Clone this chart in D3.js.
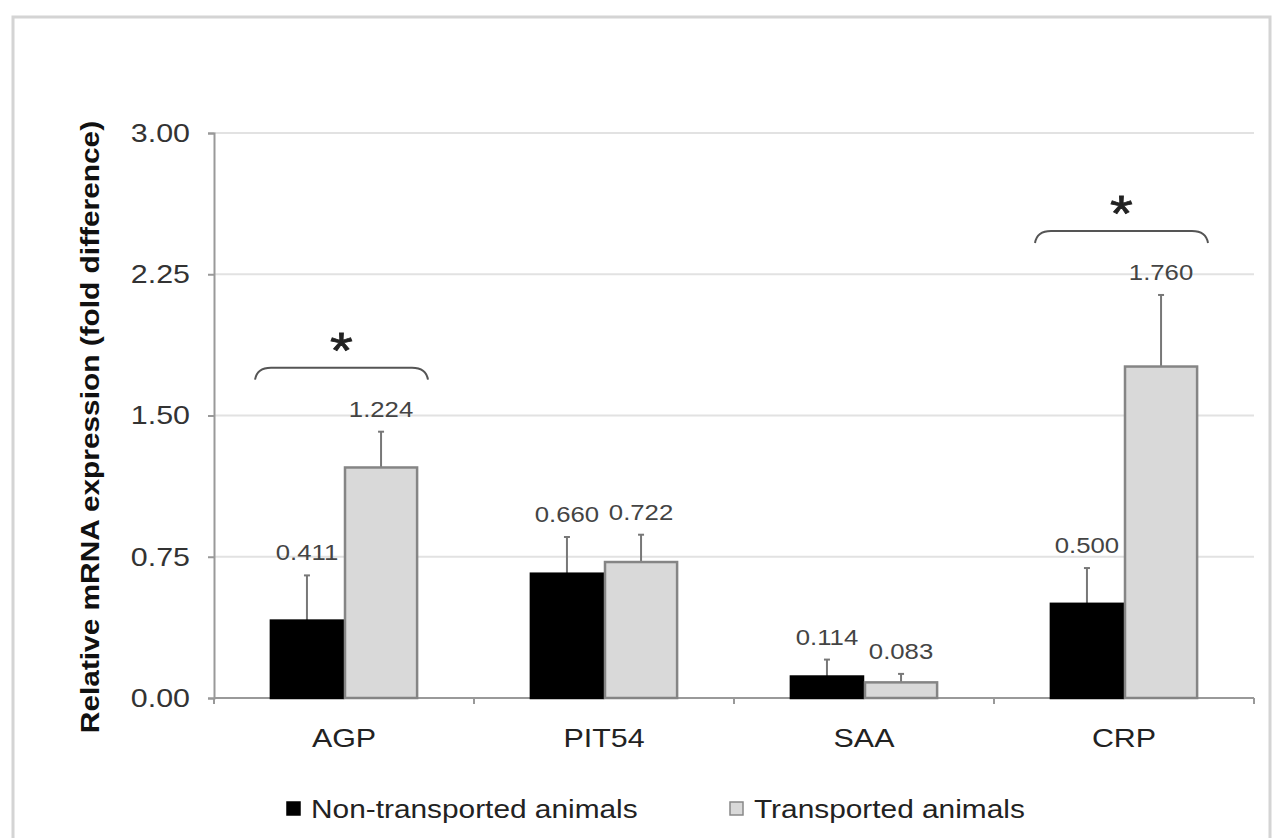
<!DOCTYPE html>
<html>
<head>
<meta charset="utf-8">
<script src="https://cdn.jsdelivr.net/npm/d3@7"></script>
<style>
  body { margin: 0; background: #fff; }
  text { font-family: "Liberation Sans", Arial, sans-serif; }
</style>
</head>
<body>
<svg id="chart"></svg>
<script>
// values
const genes = ['AGP', 'PIT54', 'SAA', 'CRP'];
const groups = ['Non-transported animals', 'Transported animals'];
const nonTransported = [0.411, 0.660, 0.114, 0.500];
const transported = [1.224, 0.722, 0.083, 1.760];
const errNon = [0.24, 0.195, 0.09, 0.19];
const errTrans = [0.19, 0.145, 0.045, 0.38];
const yTicks = [0, 0.75, 1.5, 2.25, 3];
const signif = ['AGP', 'CRP'];

const width = 1275;
const height = 838;
const margin = {top: 133, right: 21, bottom: 140, left: 214};
const sx = 1.17; // the figure's text is drawn a bit wider than Arial

const svg = d3.select('#chart')
  .attr('width', width)
  .attr('height', height);

// outer frame
svg.append('path')
  .attr('d', `M13,${height}V17H1270V${height}`)
  .attr('fill', 'none')
  .attr('stroke', '#d4d4d4')
  .attr('stroke-width', 3);

const x = d3.scaleBand()
  .domain(genes)
  .range([margin.left, width - margin.right])
  .paddingInner(0.43)
  .paddingOuter(0.215);

const xOuter = d3.scaleBand().domain(genes).range([margin.left, width - margin.right]);

const xSub = d3.scaleBand().domain(groups).range([0, x.bandwidth()]);

const y = d3.scaleLinear().domain([0, 3]).range([height - margin.bottom, margin.top]);

// gridlines
svg.append('g')
  .selectAll('line')
  .data(yTicks.slice(1))
  .join('line')
  .attr('x1', margin.left).attr('x2', width - margin.right)
  .attr('y1', d => y(d)).attr('y2', d => y(d))
  .attr('stroke', '#e2e2e2')
  .attr('stroke-width', 2);

// y axis
const yAxis = svg.append('g')
  .attr('transform', `translate(${margin.left},0)`)
  .call(d3.axisLeft(y).tickValues(yTicks).tickFormat(d3.format('.2f')).tickSize(6).tickPadding(14.5));
yAxis.select('.domain').attr('stroke', '#999').attr('stroke-width', 2);
yAxis.selectAll('.tick line').attr('stroke', '#999').attr('stroke-width', 2);
yAxis.selectAll('.tick text')
  .attr('font-size', 26)
  .attr('fill', '#333')
  .attr('transform', `scale(${sx},1)`);

// x axis with ticks at category borders
const xAxisG = svg.append('g').attr('transform', `translate(0,${y(0)})`);
xAxisG.append('line')
  .attr('x1', margin.left).attr('x2', width - margin.right)
  .attr('stroke', '#999').attr('stroke-width', 2);
xAxisG.selectAll('.bt')
  .data(genes.concat(['end']))
  .join('line')
  .attr('class', 'bt')
  .attr('x1', (d, i) => margin.left + i * xOuter.bandwidth())
  .attr('x2', (d, i) => margin.left + i * xOuter.bandwidth())
  .attr('y1', 0).attr('y2', 6)
  .attr('stroke', '#999').attr('stroke-width', 2);
xAxisG.selectAll('text')
  .data(genes)
  .join('text')
  .attr('transform', d => `translate(${xOuter(d) + xOuter.bandwidth() / 2},49) scale(${sx},1)`)
  .attr('text-anchor', 'middle')
  .attr('font-size', 26)
  .attr('fill', '#222')
  .text(d => d);

// y title
svg.append('text')
  .attr('transform', `translate(99,427) rotate(-90) scale(${sx},1)`)
  .attr('text-anchor', 'middle')
  .attr('font-size', 25.5)
  .attr('font-weight', 'bold')
  .attr('fill', '#111')
  .text('Relative mRNA expression (fold difference)');

const rows = genes.map((g, i) => [
  {gene: g, group: groups[0], v: nonTransported[i], e: errNon[i]},
  {gene: g, group: groups[1], v: transported[i], e: errTrans[i]}
]).flat();

const fill = d3.scaleOrdinal().domain(groups).range(['#000', '#d9d9d9']);
const stroke = d3.scaleOrdinal().domain(groups).range(['#000', '#858585']);

const bx = d => x(d.gene) + xSub(d.group);

// error bars (drawn first so bar covers the lower half)
const err = svg.append('g');
err.selectAll('.ev')
  .data(rows)
  .join('line')
  .attr('x1', d => bx(d) + xSub.bandwidth() / 2)
  .attr('x2', d => bx(d) + xSub.bandwidth() / 2)
  .attr('y1', d => y(d.v))
  .attr('y2', d => y(d.v + d.e))
  .attr('stroke', '#777').attr('stroke-width', 2);
err.selectAll('.ec')
  .data(rows)
  .join('line')
  .attr('x1', d => bx(d) + xSub.bandwidth() / 2 - 3)
  .attr('x2', d => bx(d) + xSub.bandwidth() / 2 + 3)
  .attr('y1', d => y(d.v + d.e))
  .attr('y2', d => y(d.v + d.e))
  .attr('stroke', '#777').attr('stroke-width', 2);

// bars
svg.append('g')
  .selectAll('rect')
  .data(rows)
  .join('rect')
  .attr('x', d => bx(d) + 1)
  .attr('y', d => y(d.v))
  .attr('width', xSub.bandwidth() - 2)
  .attr('height', d => y(0) - y(d.v))
  .attr('fill', d => fill(d.group))
  .attr('stroke', d => stroke(d.group))
  .attr('stroke-width', 2.5);

// value labels
svg.append('g')
  .selectAll('text')
  .data(rows)
  .join('text')
  .attr('transform', d => `translate(${bx(d) + xSub.bandwidth() / 2},${y(d.v + d.e) - 15}) scale(${sx},1)`)
  .attr('text-anchor', 'middle')
  .attr('font-size', 22)
  .attr('fill', '#444')
  .text(d => d3.format('.3f')(d.v));

// significance braces
const br = svg.append('g');
signif.forEach(g => {
  const i = genes.indexOf(g);
  const top = y(Math.max(transported[i] + errTrans[i], nonTransported[i] + errNon[i])) - 64;
  const x0 = xOuter(g) + 41, x1 = xOuter(g) + xOuter.bandwidth() - 46;
  br.append('path')
    .attr('d', `M${x0},${top + 12} Q${x0 + 2},${top} ${x0 + 16},${top} H${x1 - 16} Q${x1 - 2},${top} ${x1},${top + 12}`)
    .attr('fill', 'none')
    .attr('stroke', '#555')
    .attr('stroke-width', 2);
  br.append('text')
    .attr('transform', `translate(${(x0 + x1) / 2},${top}) scale(${sx},1)`)
    .attr('text-anchor', 'middle')
    .attr('font-size', 50)
    .attr('fill', '#222')
    .attr('stroke', '#222')
    .attr('stroke-width', 0.8)
    .text('*');
});

// legend
const leg = svg.append('g').attr('transform', 'translate(287,818)');
const legX = [0, 443];
groups.forEach((g, i) => {
  leg.append('rect')
    .attr('x', legX[i]).attr('y', -16)
    .attr('width', 13).attr('height', 13)
    .attr('fill', fill(g))
    .attr('stroke', i ? '#888' : '#000')
    .attr('stroke-width', 1.5);
  leg.append('text')
    .attr('transform', `translate(${legX[i] + 24},0) scale(${sx},1)`)
    .attr('font-size', 25.5)
    .attr('fill', '#222')
    .text(g);
});
</script>
</body>
</html>
